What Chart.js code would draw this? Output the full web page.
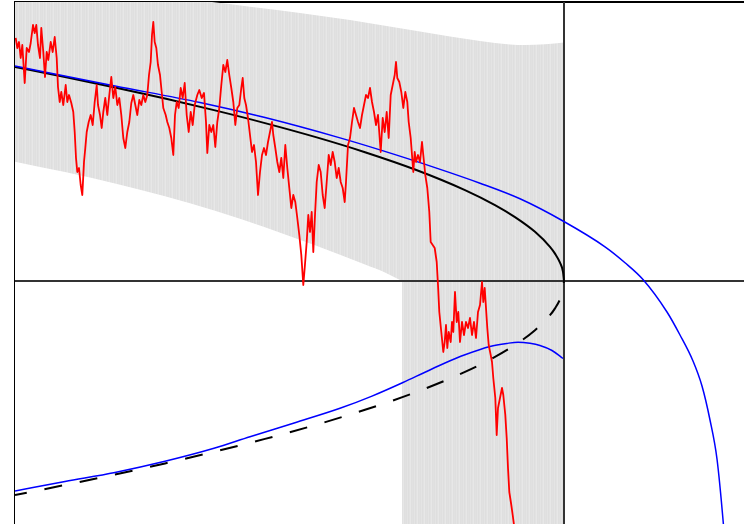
<!DOCTYPE html>
<html>
<head>
<meta charset="utf-8">
<script src="https://cdn.jsdelivr.net/npm/chart.js@4.4.1/dist/chart.umd.min.js"></script>
<style>
  html, body { margin: 0; padding: 0; background: #ffffff; }
  #wrap { width: 744px; height: 524px; }
</style>
</head>
<body>
<div id="wrap"><canvas id="c" width="744" height="524"></canvas></div>
<script>
// Horizon of the contract (time steps) and axis window
const horizon = 549;
const xRange = [0, 729];
const yRange = [-2.43, 2.79];

// Simulated path
const pathX = [
  0.7, 2.3, 4, 5.7, 7.3, 9.7, 11.7, 14, 15.7, 18,
  19.7, 21.3, 23, 25, 26.3, 28.3, 30, 31.7, 33.3, 35.7,
  37.7, 39.7, 41.7, 43, 44.7, 46.3, 48.3, 50.7, 52.3, 54,
  56.3, 58.3, 59.7, 61, 62.3, 64, 65.7, 67.3, 69, 70.3,
  71.7, 73.7, 75.7, 77.7, 79.7, 81.7, 83, 85, 86.7, 88.3,
  90.3, 92.3, 94.3, 96.3, 98.3, 100.3, 102.3, 104.3, 106.3, 108.3,
  110.3, 112.3, 114.3, 116.3, 118.3, 120.3, 122.3, 124.3, 126.3, 128.3,
  130.3, 132.3, 134, 135.7, 137, 138.3, 139.7, 141.3, 143, 145,
  146.3, 148.3, 150.7, 152.3, 154.3, 156.3, 158.3, 160, 161.7, 163.7,
  165.7, 167.7, 169.7, 171.7, 173.7, 175.7, 177.7, 179.7, 182.3, 184.3,
  186.7, 189, 191, 192.3, 194.3, 196.3, 198.3, 200.3, 202.3, 204.3,
  206.3, 208.3, 210.3, 212.3, 214.3, 216.3, 218.3, 220.3, 222.3, 224.3,
  226.3, 227.7, 229.3, 231, 233, 235, 237, 239, 241, 243,
  245, 247, 249, 251, 253, 255, 257, 258.3, 260.3, 262.3,
  264.3, 266.3, 268.3, 270.3, 272.3, 274.3, 276.3, 278.3, 280.3, 282.3,
  284.3, 286.3, 288.3, 289.7, 291.7, 293.3, 295, 296.7, 298.3, 300,
  301.7, 303.7, 305.7, 307.7, 309.7, 311.7, 313.7, 315.7, 317.7, 319.7,
  321.7, 323.7, 325.7, 327.7, 329.7, 331, 333, 335, 337, 339,
  341, 343, 345, 347, 349, 351, 353, 355, 357, 359,
  361, 363, 365.7, 367.7, 369.7, 371.7, 373.7, 375.7, 377.7, 379.7,
  381, 382.3, 384.3, 386.3, 388.3, 390.3, 392.3, 393.7, 395.7, 397,
  398.3, 399.7, 401, 403, 405, 407, 408.3, 410.3, 412.3, 414.3,
  415.7, 417.7, 419.7, 421.7, 423, 424.3, 426.3, 428.3, 429.7, 431,
  432.3, 433.7, 435.7, 437, 438.3, 440, 441.7, 443.3, 445, 447,
  449, 451, 453, 455, 457, 459, 461, 463, 465, 467,
  468.3, 469.7, 471, 472.3, 473.7, 475.7, 477, 478.3, 480.3, 481.7,
  483, 485, 487, 488.3, 490.3, 491.7, 493, 494.3, 496.3, 497.7,
  499, 500.5
];
const pathY = [
  2.43, 2.33, 2.39, 2.23, 2.36, 1.98, 2.33, 2.29, 2.38, 2.56,
  2.48, 2.56, 2.36, 2.23, 2.53, 2.29, 2.04, 2.29, 2.21, 2.39,
  2.29, 2.44, 2.23, 1.94, 1.79, 1.89, 1.76, 1.96, 1.79, 1.86,
  1.78, 1.69, 1.49, 1.23, 1.09, 1.13, 0.96, 0.86, 1.19, 1.33,
  1.49, 1.59, 1.66, 1.56, 1.79, 1.96, 1.76, 1.66, 1.53, 1.69,
  1.83, 1.66, 1.86, 2.04, 1.83, 1.94, 1.76, 1.83, 1.66, 1.43,
  1.33, 1.49, 1.59, 1.78, 1.86, 1.76, 1.66, 1.81, 1.76, 1.86,
  1.79, 1.86, 2.06, 2.19, 2.46, 2.59, 2.39, 2.33, 2.16, 2.06,
  1.93, 1.73, 1.66, 1.59, 1.53, 1.43, 1.26, 1.66, 1.79, 1.73,
  1.93, 1.83, 1.98, 1.66, 1.49, 1.69, 1.56, 1.76, 1.86, 1.91,
  1.83, 1.88, 1.59, 1.28, 1.56, 1.49, 1.56, 1.34, 1.59, 1.73,
  1.96, 2.16, 2.09, 2.21, 2.06, 1.93, 1.79, 1.56, 1.73, 1.76,
  1.93, 2.03, 1.83, 1.76, 1.63, 1.46, 1.29, 1.36, 1.19, 0.86,
  1.09, 1.26, 1.33, 1.26, 1.39, 1.49, 1.59, 1.46, 1.33, 1.19,
  1.09, 1.23, 1.03, 1.36, 1.13, 0.93, 0.73, 0.86, 0.79, 0.63,
  0.46, 0.26, -0.04, 0.13, 0.39, 0.66, 0.49, 0.69, 0.29, 0.66,
  0.99, 1.16, 1.09, 0.86, 0.73, 0.99, 1.26, 1.16, 1.29, 1.19,
  1.03, 1.13, 0.99, 0.93, 0.79, 0.99, 1.36, 1.43, 1.59, 1.73,
  1.66, 1.59, 1.53, 1.66, 1.76, 1.86, 1.83, 1.93, 1.79, 1.69,
  1.56, 1.66, 1.29, 1.63, 1.49, 1.69, 1.43, 1.86, 1.96, 2.06,
  2.19, 2.03, 1.99, 1.89, 1.73, 1.89, 1.79, 1.59, 1.43, 1.26,
  1.09, 1.29, 1.19, 1.26, 1.19, 1.39, 1.26, 1.06, 0.93, 0.69,
  0.39, 0.36, 0.33, 0.19, -0.04, -0.31, -0.51, -0.71, -0.61, -0.44,
  -0.67, -0.51, -0.61, -0.41, -0.51, -0.11, -0.41, -0.31, -0.61, -0.41,
  -0.54, -0.41, -0.47, -0.37, -0.54, -0.41, -0.57, -0.31, -0.24, -0.01,
  -0.21, -0.07, -0.27, -0.47, -0.64, -0.74, -0.81, -0.97, -1.17, -1.54,
  -1.27, -1.17, -1.07, -1.14, -1.34, -1.57, -1.87, -2.11, -2.24, -2.34,
  -2.44, -2.56
];

// Upper and lower exercise boundaries
const boundX = [0, 50, 100, 150, 200, 250, 300, 350, 400, 450, 480, 500, 520, 535, 540, 545, 548, 549];
const boundUpY = [2.14, 2.04, 1.935, 1.824, 1.706, 1.579, 1.441, 1.288, 1.115, 0.909, 0.759, 0.639, 0.492, 0.342, 0.274, 0.183, 0.091, 0];
const boundLowY = [-2.14, -2.04, -1.935, -1.824, -1.706, -1.579, -1.441, -1.288, -1.115, -0.909, -0.759, -0.639, -0.492, -0.342, -0.274, -0.183, -0.091, 0];

// Approximate boundaries
const approxUpX = [0, 100, 185, 250, 325, 365, 420, 465, 505, 548, 590, 610, 628, 652, 665, 678, 687, 695, 702, 708.3, 712];
const approxUpY = [2.15, 1.95, 1.785, 1.634, 1.431, 1.311, 1.134, 0.978, 0.822, 0.60, 0.342, 0.183, 0.015, -0.31, -0.54, -0.80, -1.05, -1.39, -1.78, -2.42, -2.9];
const approxLowX = [0, 50, 100, 150, 199, 235, 280, 325, 357, 388, 410, 430, 450, 475, 492, 503, 515, 525, 537, 548];
const approxLowY = [-2.10, -2.005, -1.915, -1.803, -1.673, -1.557, -1.417, -1.273, -1.151, -1.015, -0.912, -0.82, -0.738, -0.655, -0.624, -0.612, -0.623, -0.645, -0.695, -0.775];

// Continuation region: top edge, and lower edge where it lies above zero
const bandTopX = [0, 100, 185, 235, 285, 335, 405, 435, 465, 495, 510, 530, 549];
const bandTopY = [3.01, 2.91, 2.805, 2.743, 2.68, 2.61, 2.495, 2.445, 2.40, 2.365, 2.36, 2.367, 2.385];
const bandLowX = [0, 50, 100, 150, 200, 250, 300, 350, 370, 387];
const bandLowY = [1.193, 1.089, 0.975, 0.848, 0.703, 0.538, 0.357, 0.165, 0.086, 0];

const pts = (xs, ys) => xs.map((x, i) => ({ x: x, y: ys[i] }));

// Fine vertical hatching used for the band
function stripePattern() {
  const shades = ['#dfdfdf', '#e4e4e4', '#dedede', '#e2e2e2', '#e7e7e7', '#dfdfdf', '#e1e1e1'];
  const cv = document.createElement('canvas');
  cv.width = shades.length;
  cv.height = 4;
  const g = cv.getContext('2d');
  shades.forEach((s, i) => { g.fillStyle = s; g.fillRect(i, 0, 1, 4); });
  return g.createPattern(cv, 'repeat');
}

const smooth = { pointRadius: 0, cubicInterpolationMode: 'monotone', fill: false };

new Chart(document.getElementById('c'), {
  type: 'line',
  data: {
    datasets: [
      { data: pts(pathX, pathY), borderColor: '#ff0000', borderWidth: 1.8, pointRadius: 0,
        tension: 0, borderJoinStyle: 'round', fill: false },
      Object.assign({ data: pts(approxUpX, approxUpY), borderColor: '#0000ff', borderWidth: 1.5 }, smooth),
      Object.assign({ data: pts(approxLowX, approxLowY), borderColor: '#0000ff', borderWidth: 1.5 }, smooth),
      Object.assign({ data: pts(boundX, boundUpY), borderColor: '#000000', borderWidth: 2 }, smooth),
      Object.assign({ data: pts(boundX, boundLowY), borderColor: '#000000', borderWidth: 2,
        borderDash: [18, 18], borderDashOffset: 6 }, smooth),
      { data: [{ x: -50, y: 0 }, { x: 800, y: 0 }], borderColor: '#333333', borderWidth: 2,
        pointRadius: 0, fill: false },
      { data: [{ x: horizon, y: -5 }, { x: horizon, y: 5 }], borderColor: '#333333', borderWidth: 2,
        pointRadius: 0, fill: false },
      // white area under the lower edge of the band
      Object.assign({ data: pts(bandLowX, bandLowY), borderWidth: 0, borderColor: 'rgba(0,0,0,0)',
        backgroundColor: '#ffffff' }, smooth, { fill: 'start' }),
      // band: everything under its top edge
      Object.assign({ data: pts(bandTopX, bandTopY), borderWidth: 0, borderColor: 'rgba(0,0,0,0)',
        backgroundColor: stripePattern() }, smooth, { fill: 'start' })
    ]
  },
  options: {
    responsive: false,
    animation: false,
    devicePixelRatio: 1,
    layout: { padding: { left: 15, top: 2, right: 0, bottom: 0 } },
    plugins: {
      legend: { display: false },
      tooltip: { enabled: false },
      filler: { drawTime: 'beforeDatasetsDraw' }
    },
    scales: {
      x: {
        type: 'linear', position: 'top', min: xRange[0], max: xRange[1],
        ticks: { display: false },
        grid: { display: false, drawTicks: false },
        border: { display: true, color: '#000000', width: 2 }
      },
      y: {
        type: 'linear', position: 'left', min: yRange[0], max: yRange[1],
        ticks: { display: false },
        grid: { display: false, drawTicks: false },
        border: { display: true, color: '#000000', width: 2 }
      }
    }
  }
});
</script>
</body>
</html>
